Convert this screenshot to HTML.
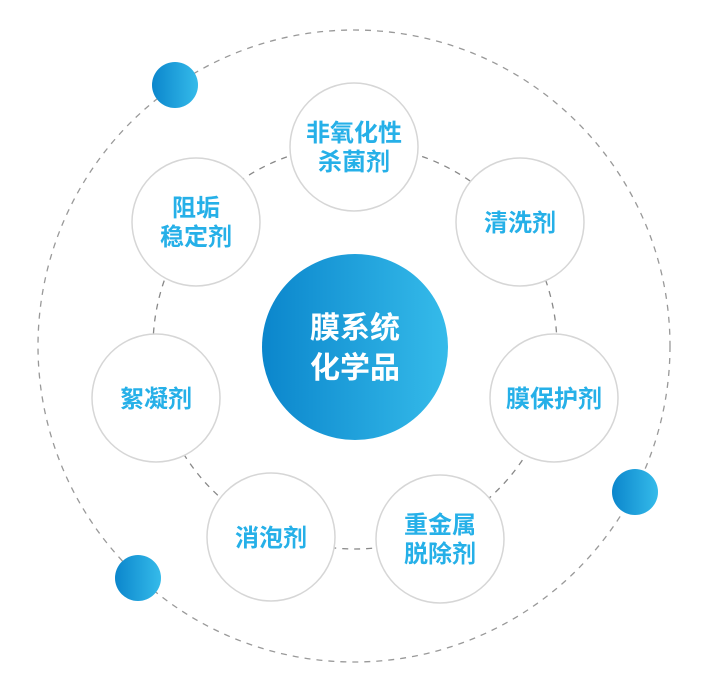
<!DOCTYPE html>
<html><head><meta charset="utf-8"><style>
html,body{margin:0;padding:0;background:#fff;}
svg{display:block;}
text{font-family:"Liberation Sans","Noto Sans CJK SC",sans-serif;font-weight:bold;text-anchor:middle;}
</style></head><body>
<svg width="708" height="683" viewBox="0 0 708 683">
<defs>
<linearGradient id="g" x1="0" y1="0" x2="1" y2="0">
<stop offset="0" stop-color="#0b86cc"/><stop offset="1" stop-color="#35bbea"/>
</linearGradient>
</defs>
<circle cx="354" cy="346" r="316" fill="none" stroke="#999" stroke-width="1.3" stroke-dasharray="6 6"/>
<circle cx="355" cy="347" r="202" fill="none" stroke="#888" stroke-width="1.3" stroke-dasharray="6 6"/>
<g fill="#fff" stroke="#d6d6d6" stroke-width="1.5">
<circle cx="354" cy="147" r="64"/>
<circle cx="520" cy="222" r="64"/>
<circle cx="554" cy="398" r="64"/>
<circle cx="440" cy="539" r="64"/>
<circle cx="271" cy="537" r="64"/>
<circle cx="156" cy="398" r="64"/>
<circle cx="196" cy="222" r="64"/>
</g>
<circle cx="355" cy="347" r="93" fill="url(#g)"/>
<circle cx="175" cy="85" r="23" fill="url(#g)"/>
<circle cx="635" cy="492" r="23" fill="url(#g)"/>
<circle cx="138" cy="578" r="23" fill="url(#g)"/>
<g fill="#fff" font-size="30">
<text x="355" y="338">膜系统</text>
<text x="355" y="378">化学品</text>
</g>
<g fill="#26b0e8" font-size="24">
<text x="354" y="141">非氧化性</text>
<text x="354" y="170">杀菌剂</text>
<text x="520" y="231">清洗剂</text>
<text x="554" y="407">膜保护剂</text>
<text x="440" y="533">重金属</text>
<text x="440" y="562">脱除剂</text>
<text x="271" y="546">消泡剂</text>
<text x="156" y="407">絮凝剂</text>
<text x="196" y="216">阻垢</text>
<text x="196" y="245">稳定剂</text>
</g>
</svg>
</body></html>
